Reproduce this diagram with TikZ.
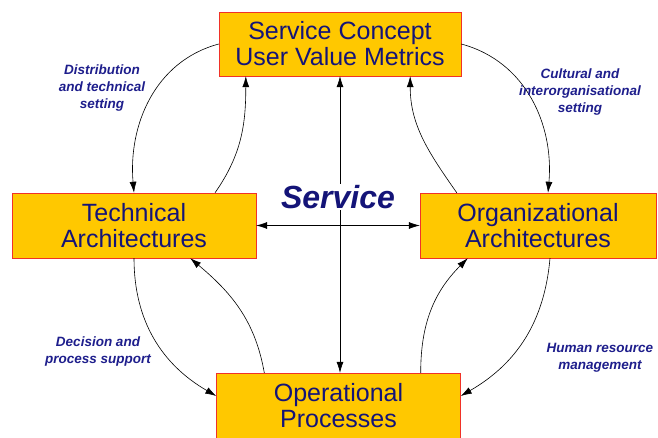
\documentclass[tikz,border=0pt]{standalone}
\usepackage{fontspec}
\setmainfont{Liberation Sans}
\usetikzlibrary{arrows.meta}
\definecolor{boxyellow}{RGB}{255,200,0}
\definecolor{boxred}{RGB}{240,50,40}
\definecolor{textblue}{RGB}{20,20,120}
\definecolor{labelblue}{RGB}{30,30,140}
\newcommand{\labelfont}{\fontsize{13.5}{17}\selectfont\bfseries\itshape}
\tikzstyle{stagebox} = [rectangle, draw = boxred, fill = boxyellow, minimum width = 242pt, minimum height = 65pt, align = center, text = textblue, font = \fontsize{25}{26}\selectfont]
\tikzstyle{setting} = [align = center, text = labelblue, font = \labelfont]
\tikzstyle{flow} = [->, semithick]
\begin{document}
\begin{tikzpicture}[x = 1pt, y = 1pt, >={Latex[length = 11pt, width = 7pt]}]
  \useasboundingbox (0, 0) rectangle (658, -438);
  \node[stagebox, minimum height = 64pt] (concept) at (340, -44) {Service Concept\\User Value Metrics};
  \node[stagebox, minimum width = 244pt] (tech) at (134, -225.5) {Technical\\Architectures};
  \node[stagebox, minimum width = 236pt] (org) at (538, -225.5) {Organizational\\Architectures};
  \node[stagebox, minimum width = 244pt, minimum height = 66pt] (ops) at (338.5, -406) {Operational\\Processes};
  \draw[<->, semithick] (concept.south) -- (concept.south |- ops.north);
  \draw[<->, semithick] (tech.east) -- (org.west);
  \node[fill = white, inner sep = 1pt, text = textblue, font = \fontsize{32}{36}\selectfont\bfseries\itshape] (service) at (338, -197) {Service};
  \draw[flow] (concept.west) to[out = 195, in = 95] (tech.north);
  \draw[flow] ([xshift = 81pt]tech.north) to[out = 55, in = -90] ([xshift = 27pt]concept.south west);
  \draw[flow] (concept.east) to[out = -15, in = 85] ([xshift = 10pt]org.north);
  \draw[flow] ([xshift = 37pt]org.north west) to[out = 125, in = -90] ([xshift = -51pt]concept.south east);
  \draw[flow] (tech.south) to[out = -90, in = 150] ([yshift = 10pt]ops.west);
  \draw[flow] ([xshift = 48pt]ops.north west) to[out = 100, in = -40] ([xshift = -66pt]tech.south east);
  \draw[flow] ([xshift = 12pt]org.south) to[out = -95, in = 30] ([yshift = 10pt]ops.east);
  \draw[flow] ([xshift = -40pt]ops.north east) to[out = 90, in = -135] ([xshift = 48pt]org.south west);
  \node[setting] (distribution) at (102, -88) {Distribution\\and technical\\setting};
  \node[setting] (cultural) at (580, -92) {Cultural and\\interorganisational\\setting};
  \node[setting] (decision) at (98, -352) {Decision and\\process support};
  \node[setting] (human) at (600, -358) {Human resource\\management};
\end{tikzpicture}
\end{document}
